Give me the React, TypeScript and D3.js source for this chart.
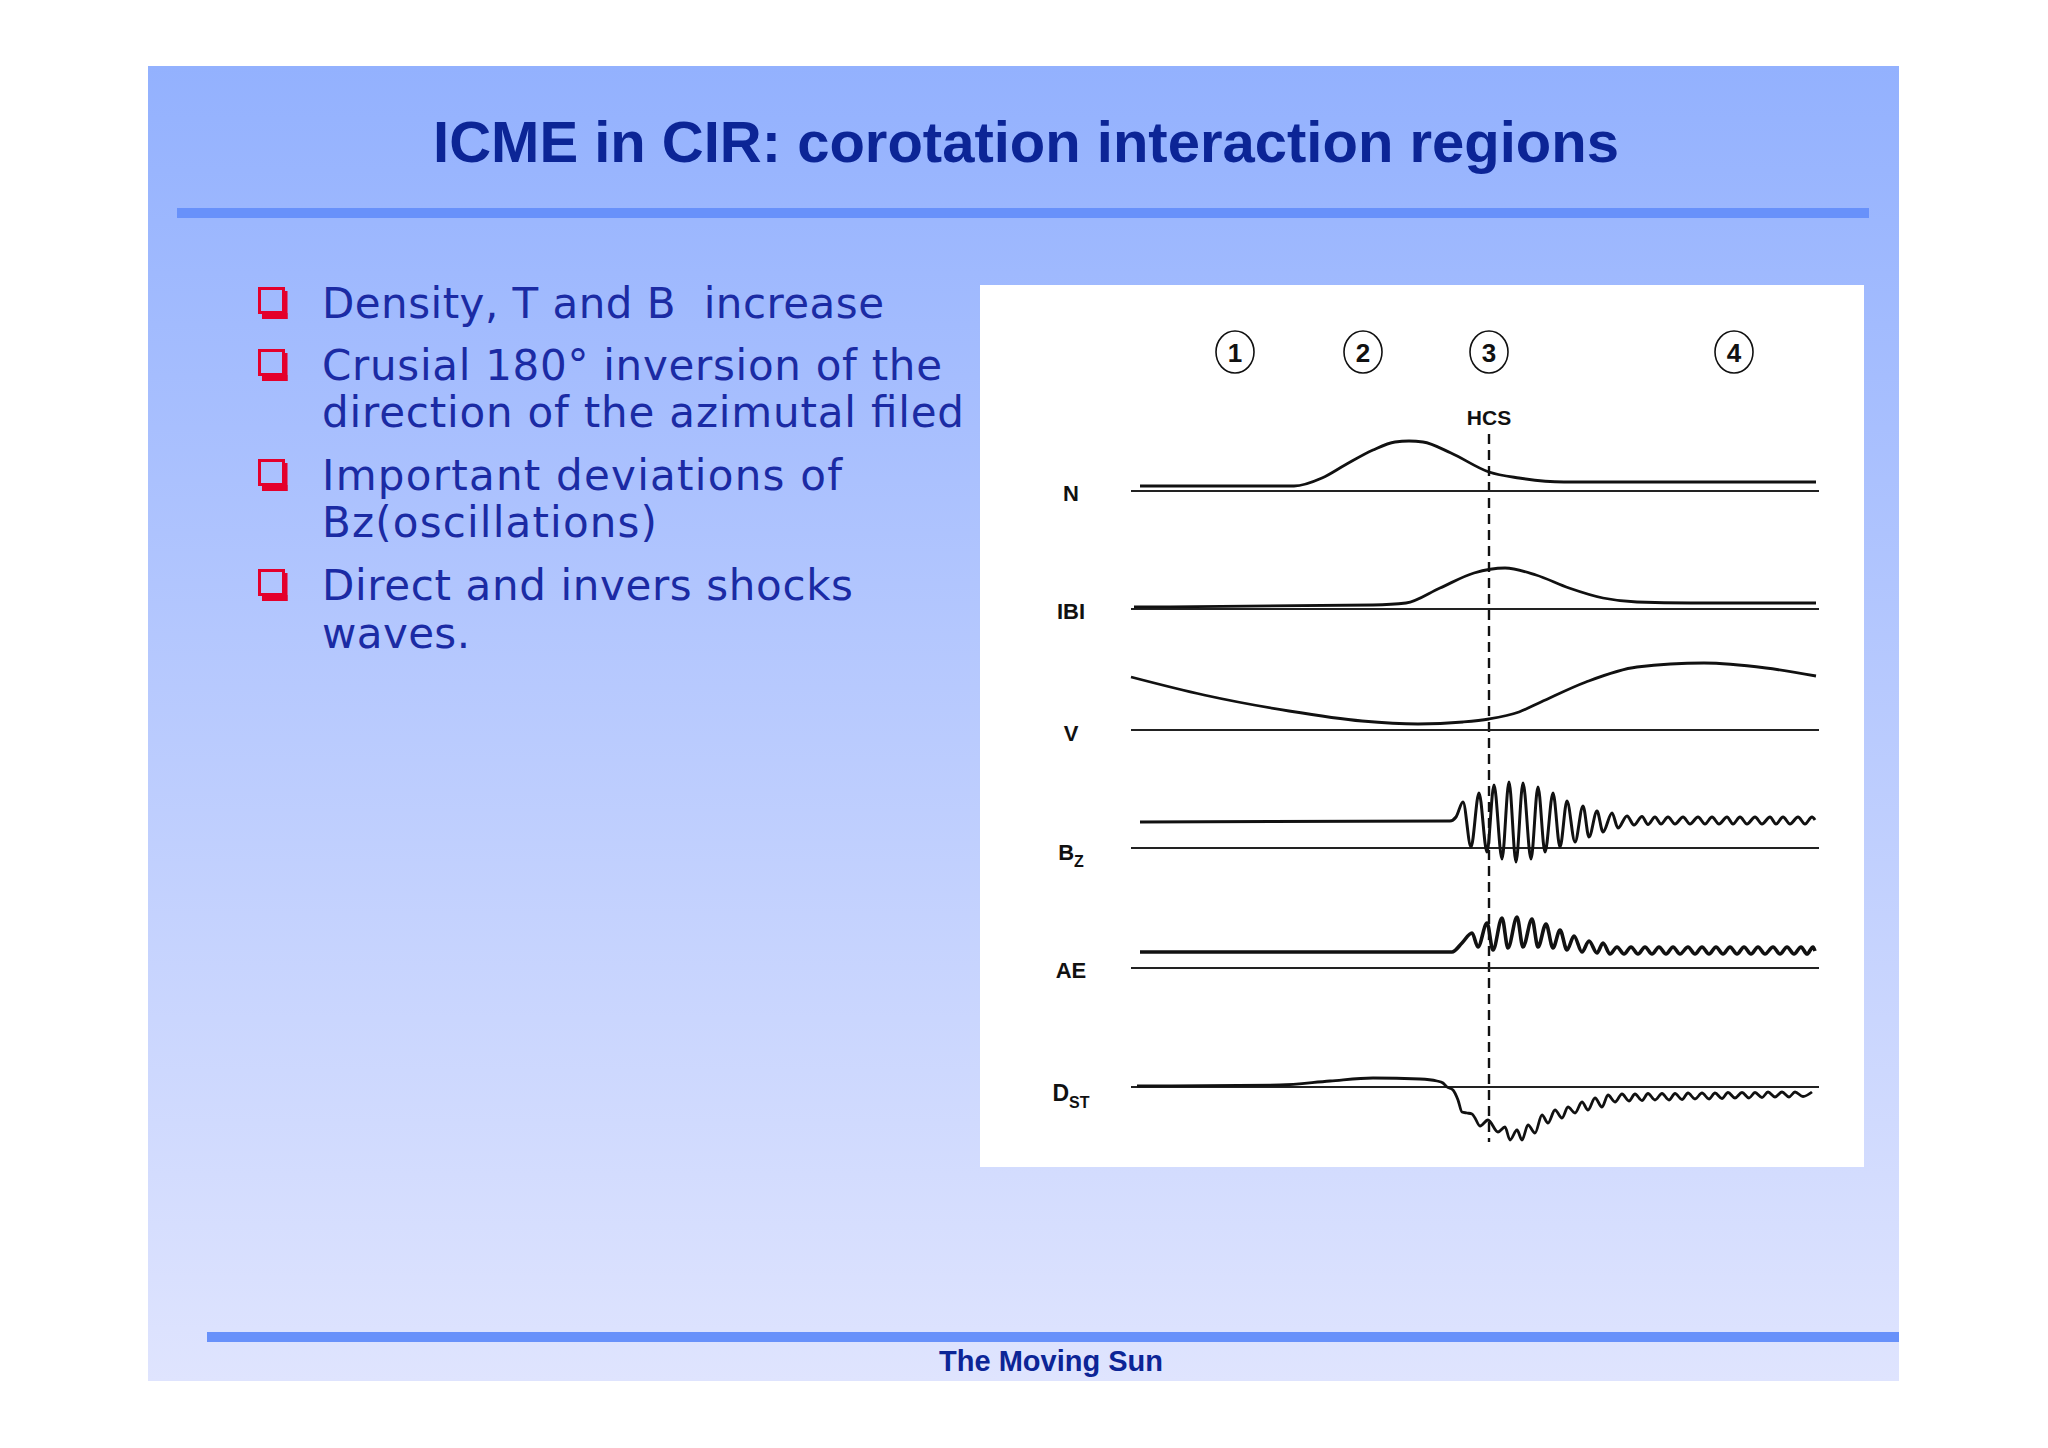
import React from 'react';
import * as d3 from 'd3';

// ---------- text content ----------
const titleText = 'ICME in CIR: corotation interaction regions';
const footerText = 'The Moving Sun';
const bulletItems: string[][] = [
  ['Density, T and B  increase'],
  ['Crusial 180\u00b0 inversion of the', 'direction of the azimutal filed'],
  ['Important deviations of', 'Bz(oscillations)'],
  ['Direct and invers shocks', 'waves.'],
];

// ---------- chart data (time in hours, values in relative units) ----------
const timeDomain: [number, number] = [0, 172];
const regionNumbers = ['1', '2', '3', '4'];
const regionTimes = [26, 58, 89.5, 150.75];
const hcsLabel = 'HCS';
const hcsTime = 89.5;

type P = [number, number];

const nSeries: P[] = [
  [2.25, 1.0], [40.75, 1.0], [47.75, 2.6], [53.5, 5.2], [60.5, 8.2], [66, 9.8], [69.5, 10.0],
  [73, 9.8], [80, 7.6], [89.5, 3.8], [97, 2.6], [108.25, 1.8], [130, 1.8], [171.25, 1.8],
];

const bSeries: P[] = [
  [0.75, 0.4], [60.5, 0.8], [68.75, 1.2], [77.25, 4.2], [85.75, 7.2], [93.5, 8.2], [101.25, 6.8],
  [109.5, 4.2], [118, 2.2], [126.5, 1.4], [140, 1.2], [171.25, 1.2],
];

const vSeries: P[] = [
  [0, 10.6], [18.25, 7.0], [39.5, 3.8], [57.75, 1.8], [71.75, 1.2], [83, 1.6], [89.5, 2.2],
  [97, 3.6], [102.5, 5.6], [113.75, 9.6], [126.5, 12.6], [143.25, 13.4], [158.75, 12.4], [171.25, 10.8],
];

const bzSeries: P[] = [
  [2.25, 5.2], [79.75, 5.4], [81.25, 6.2], [83, 9.2], [85, 0.2], [87, 11], [89, -0.8], [90.75, 12.6],
  [92.75, -2.2], [94.5, 13.2], [96.25, -2.8], [98, 13.0], [100, -2.2], [101.75, 12.2], [103.5, -0.8],
  [105.5, 11], [107.25, 0.2], [109, 9.4], [111, 1.2], [113, 8.4], [114.5, 2.2], [116.5, 7.4],
  [118, 3.2], [120.25, 7.0], [121.75, 4.0], [124, 6.4], [125.75, 4.6], [127.75, 6.3], [129.25, 4.7],
  [131, 6.2], [132.5, 4.8], [134.25, 6.2], [136, 4.8], [138, 6.2], [139.75, 4.8], [141.75, 6.2],
  [143.5, 4.8], [145.25, 6.2], [147, 4.8], [149, 6.2], [150.5, 4.8], [152.25, 6.2], [154, 4.8],
  [156, 6.2], [157.75, 4.8], [159.75, 6.2], [161.25, 4.8], [163, 6.2], [164.75, 4.8], [166.75, 6.2],
  [168.5, 4.8], [170.25, 6.2], [171, 5.6],
];

const aeSeries: P[] = [
  [2.25, 3.2], [80.25, 3.2], [82.75, 5.0], [85.25, 7.0], [86.75, 4.2], [89, 9.0], [90.5, 3.6],
  [92.75, 10.0], [94.25, 4.0], [96.5, 10.2], [98, 4.2], [100.25, 9.8], [101.75, 4.2], [103.75, 8.8],
  [105.5, 4.0], [107.25, 7.6], [109, 3.6], [110.75, 6.4], [112.75, 3.2], [114.5, 5.4], [116.5, 3.0],
  [118, 5.0], [119.75, 2.8], [121.5, 4.2], [123.25, 2.8], [125, 4.2], [126.75, 2.8], [128.5, 4.2],
  [130.25, 2.8], [132, 4.2], [133.75, 2.8], [135.5, 4.2], [137.25, 2.8], [139.25, 4.2], [141, 2.8],
  [142.75, 4.2], [144.5, 2.8], [146.25, 4.2], [148, 2.8], [149.75, 4.2], [151.5, 2.8], [153.25, 4.2],
  [155, 2.8], [156.75, 4.2], [158.5, 2.8], [160.5, 4.2], [162.25, 2.8], [164, 4.2], [165.75, 2.8],
  [167.5, 4.2], [169, 2.8], [170.5, 4.2], [171, 3.4],
];

const dstSeries: P[] = [
  [1.5, 0.2], [37.25, 0.4], [49.75, 1.2], [60.5, 1.8], [72.25, 1.6], [76.5, 1.2], [78, 0.8], [79, 0],
  [80.5, -0.6], [81.75, -2.6], [82.75, -5.0], [84, -5.2], [85.25, -5.4], [86, -6.2], [87.25, -7.8],
  [89.25, -6.6], [91.75, -9.0], [93.5, -8.0], [94.75, -10.6], [96.5, -8.6], [97.75, -10.6],
  [99.25, -7.6], [101, -9.2], [102.75, -5.6], [104.25, -7.2], [106, -4.6], [107.75, -6.2],
  [109.25, -4.0], [111, -5.2], [112.75, -3.0], [114.25, -4.6], [116, -2.2], [117.75, -4.0],
  [119.25, -1.6], [121, -3.0], [122.75, -1.4], [124.5, -2.8], [126, -1.4], [127.75, -2.7],
  [129.25, -1.3], [131, -2.6], [132.75, -1.3], [134.5, -2.6], [136, -1.3], [137.75, -2.5],
  [139.25, -1.2], [141, -2.4], [142.75, -1.2], [144.5, -2.4], [146, -1.2], [147.75, -2.3],
  [149.25, -1.1], [151, -2.2], [152.75, -1.1], [154.5, -2.2], [156, -1.1], [157.75, -2.1],
  [159.25, -1.0], [161, -2.0], [162.75, -1.0], [164.5, -2.0], [166, -1.0], [168, -1.9], [170.25, -1.0],
];

const panelNames = ['N', 'IBI', 'V', 'Bz', 'AE', 'Dst'];
const panelSeries = [nSeries, bSeries, vSeries, bzSeries, aeSeries, dstSeries];

// ---------- layout / style ----------
const W = 2048;
const H = 1448;
const slide = { x: 148, y: 66, w: 1751, h: 1315 };
const plotX0 = 1131;
const plotX1 = 1819;
const panelBaseY = [491, 609, 730, 848, 968, 1087];
const panelLabelY = [493, 611, 733, 852, 970, 1095];
const panelStroke = [2.8, 2.8, 2.8, 3, 3.6, 2.8];
const unitPx = 5;
const bulletBaselines = [[318], [380, 427], [490, 537], [600, 648]];
const bulletWidths = [[562], [620, 642], [520, 335], [531, 148]];
const bulletIconY = [304, 366, 476, 586];

const textBlue = '#1b2ba4';
const titleBlue = '#0c2596';
const ruleBlue = '#6891fa';
const bulletRed = '#e4002b';
const labelFont = "'Liberation Sans Narrow', 'Liberation Sans', Arial, sans-serif";

export default function App() {
  const x = d3.scaleLinear().domain(timeDomain).range([plotX0, plotX1]);
  const yScales = panelBaseY.map((b) => d3.scaleLinear().domain([0, 10]).range([b, b - 10 * unitPx]));

  return (
    <svg
      width={W}
      height={H}
      viewBox={`0 0 ${W} ${H}`}
      style={{ position: 'absolute', left: 0, top: 0, background: '#ffffff' }}
    >
      <defs>
        <linearGradient id="bg" x1="0" y1="0" x2="0" y2="1">
          <stop offset="0" stopColor="#93b1fe" />
          <stop offset="1" stopColor="#dfe4fe" />
        </linearGradient>
      </defs>
      <rect x={0} y={0} width={W} height={H} fill="#ffffff" />
      <rect x={slide.x} y={slide.y} width={slide.w} height={slide.h} fill="url(#bg)" />

      {/* title */}
      <text
        x={1026}
        y={162}
        textAnchor="middle"
        fontFamily="'Liberation Sans', Arial, sans-serif"
        fontWeight="bold"
        fontSize={58}
        fill={titleBlue}
      >
        {titleText}
      </text>
      <rect x={177} y={208} width={1692} height={10} fill={ruleBlue} />

      {/* bullets */}
      {bulletItems.map((lines, i) => (
        <g key={i}>
          <rect x={283} y={bulletIconY[i] - 13} width={4.5} height={28} fill={bulletRed} />
          <rect x={262} y={bulletIconY[i] + 9} width={25.5} height={6} fill={bulletRed} />
          <rect
            x={259.5}
            y={bulletIconY[i] - 15.5}
            width={24}
            height={24}
            fill="none"
            stroke={bulletRed}
            strokeWidth={3}
          />
          {lines.map((ln, j) => (
            <text
              key={j}
              x={322}
              y={bulletBaselines[i][j]}
              fontFamily="'DejaVu Sans', Verdana, sans-serif"
              fontSize={42}
              fill={textBlue}
              textLength={bulletWidths[i][j]}
              lengthAdjust="spacing"
              style={{ whiteSpace: 'pre' }}
            >
              {ln}
            </text>
          ))}
        </g>
      ))}

      {/* figure */}
      <rect x={980} y={285} width={884} height={882} fill="#ffffff" />

      {regionNumbers.map((n, i) => (
        <g key={n}>
          <ellipse cx={x(regionTimes[i])} cy={352} rx={19} ry={21} fill="none" stroke="#111" strokeWidth={1.6} />
          <text
            x={x(regionTimes[i])}
            y={353}
            textAnchor="middle"
            dominantBaseline="central"
            fontFamily={labelFont}
            fontWeight="bold"
            fontSize={26}
            fill="#111"
          >
            {n}
          </text>
        </g>
      ))}

      <text
        x={x(hcsTime)}
        y={425}
        textAnchor="middle"
        fontFamily={labelFont}
        fontWeight="bold"
        fontSize={21}
        fill="#111"
      >
        {hcsLabel}
      </text>
      <line
        x1={x(hcsTime)}
        x2={x(hcsTime)}
        y1={434}
        y2={1142}
        stroke="#111"
        strokeWidth={2.4}
        strokeDasharray="10,6"
      />

      {panelNames.map((name, i) => {
        const y = yScales[i];
        const line = d3
          .line<P>()
          .x((d) => x(d[0]))
          .y((d) => y(d[1]))
          .curve(d3.curveMonotoneX);
        return (
          <g key={name}>
            <line
              x1={x(timeDomain[0])}
              x2={x(timeDomain[1])}
              y1={y(0)}
              y2={y(0)}
              stroke="#222"
              strokeWidth={2}
            />
            <path d={line(panelSeries[i]) || ''} fill="none" stroke="#111" strokeWidth={panelStroke[i]} strokeLinejoin="round" />
            {name === 'Bz' ? (
              <text x={1071} y={panelLabelY[i]} textAnchor="middle" dominantBaseline="central" fontFamily={labelFont} fontWeight="bold" fontSize={22} fill="#111">
                B
                <tspan fontSize={16} dy={9}>Z</tspan>
              </text>
            ) : name === 'Dst' ? (
              <text x={1071} y={panelLabelY[i] - 2} textAnchor="middle" dominantBaseline="central" fontFamily={labelFont} fontWeight="bold" fontSize={23} fill="#111">
                D
                <tspan fontSize={16} dy={9}>ST</tspan>
              </text>
            ) : (
              <text x={1071} y={panelLabelY[i]} textAnchor="middle" dominantBaseline="central" fontFamily={labelFont} fontWeight="bold" fontSize={22} fill="#111">
                {name}
              </text>
            )}
          </g>
        );
      })}

      {/* footer */}
      <rect x={207} y={1332} width={1692} height={10} fill={ruleBlue} />
      <text
        x={1051}
        y={1371}
        textAnchor="middle"
        fontFamily="'Liberation Sans', Arial, sans-serif"
        fontWeight="bold"
        fontSize={29}
        fill={titleBlue}
      >
        {footerText}
      </text>
    </svg>
  );
}
